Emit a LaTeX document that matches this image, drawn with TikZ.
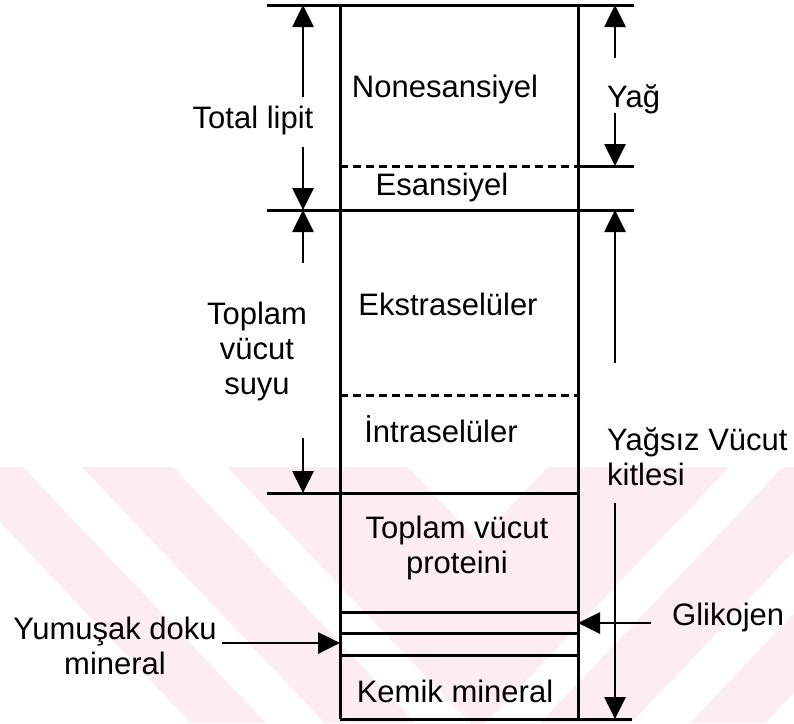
\documentclass[tikz,border=0pt]{standalone}
\usepackage{fontspec}
\setmainfont{Liberation Sans}
\usetikzlibrary{arrows.meta}
\definecolor{wmpink}{RGB}{253,236,240}

\begin{document}
\begin{tikzpicture}[x=1pt,y=-1pt,->,>={Triangle[length=22pt,width=21pt]},
	font=\fontsize{31}{35}\selectfont,
	every node/.style={inner sep=0pt},
	bar/.style={-,line width=3pt},
	dashbar/.style={-,line width=3pt,dash pattern=on 8pt off 5pt},
	dim/.style={line width=2.7pt}]
	\path[-,use as bounding box] (0,0) rectangle (794,723);
	% watermark
	\begin{scope}
	\clip (0,467) rectangle (794,723);
	\fill[wmpink] (-52,467) -- (23,467) -- (266,723) -- (191,723) -- cycle;
	\fill[wmpink] (933,467) -- (1008,467) -- (765,723) -- (690,723) -- cycle;
	\fill[wmpink] (82,467) -- (173,467) -- (416,723) -- (325,723) -- cycle;
	\fill[wmpink] (783,467) -- (874,467) -- (631,723) -- (540,723) -- cycle;
	\fill[wmpink] (227,467) -- (478,731) -- (729,467) -- (548,467) -- (478,541) -- (408,467) -- cycle;
	\end{scope}
	% the bar
	\draw[bar] (267,5) -- (634,5);
	\draw[bar] (340,5) -- (340,719);
	\draw[bar] (578,5) -- (578,719);
	\draw[dashbar] (340,166) -- (578,166);
	\draw[bar] (578,166) -- (634,166);
	\draw[bar] (267,210) -- (634,210);
	\draw[dashbar] (340,395) -- (578,395);
	\draw[bar] (267,493) -- (578,493);
	\foreach \y in {612,633,655}
		\draw[bar] (340,\y) -- (578,\y);
	\draw[bar] (340,719) -- (632,719);
	% texts
	\node (non) [anchor=base] at (445,97) {Nonesansiyel};
	\node (esa) [anchor=base] at (442,195) {Esansiyel};
	\node (eks) [anchor=base] at (448,315) {Ekstraselüler};
	\node (int) [anchor=base] at (441,442) {İntraselüler};
	\node (pro) [align=center] at (457,548) {Toplam vücut\\proteini};
	\node (kem) [anchor=base] at (455,702) {Kemik mineral};
	\node (lip) [anchor=base] at (253,128) {Total lipit};
	\node (suy) [align=center] at (257,351) {Toplam\\vücut\\suyu};
	\node (yag) [anchor=base west] at (607,107) {Yağ};
	\node (ysz) [align=left,anchor=west] at (607,457) {Yağsız Vücut\\kitlesi};
	\node (gli) [anchor=base west] at (672,625) {Glikojen};
	\node (yum) [align=center] at (115,646) {Yumuşak doku\\mineral};
	% left column
	\coordinate (L0) at (303,5);
	\coordinate (L1) at (303,210);
	\coordinate (L2) at (303,493);
	\coordinate (la) at (303,97);
	\coordinate (lb) at (303,147);
	\coordinate (lc) at (303,263);
	\coordinate (ld) at (303,438);
	% right column
	\coordinate (R0) at (615,5);
	\coordinate (R1) at (615,166);
	\coordinate (R2) at (615,210);
	\coordinate (R3) at (615,719);
	\coordinate (ra) at (615,58);
	\coordinate (rb) at (615,113);
	\coordinate (rc) at (615,363);
	\coordinate (rd) at (615,503);
	% pointers
	\coordinate (g1) at (651,623);
	\coordinate (g2) at (578,623);
	\coordinate (y1) at (222,643);
	\coordinate (y2) at (340,643);
	\draw[dim] (la) -- (L0);
	\draw[dim] (lb) -- (L1);
	\draw[dim] (lc) -- (L1);
	\draw[dim] (ld) -- (L2);
	\draw[dim] (ra) -- (R0);
	\draw[dim] (rb) -- (R1);
	\draw[dim] (rc) -- (R2);
	\draw[dim] (rd) -- (R3);
	\draw[dim] (g1) -- (g2);
	\draw[dim] (y1) -- (y2);
\end{tikzpicture}
\end{document}
